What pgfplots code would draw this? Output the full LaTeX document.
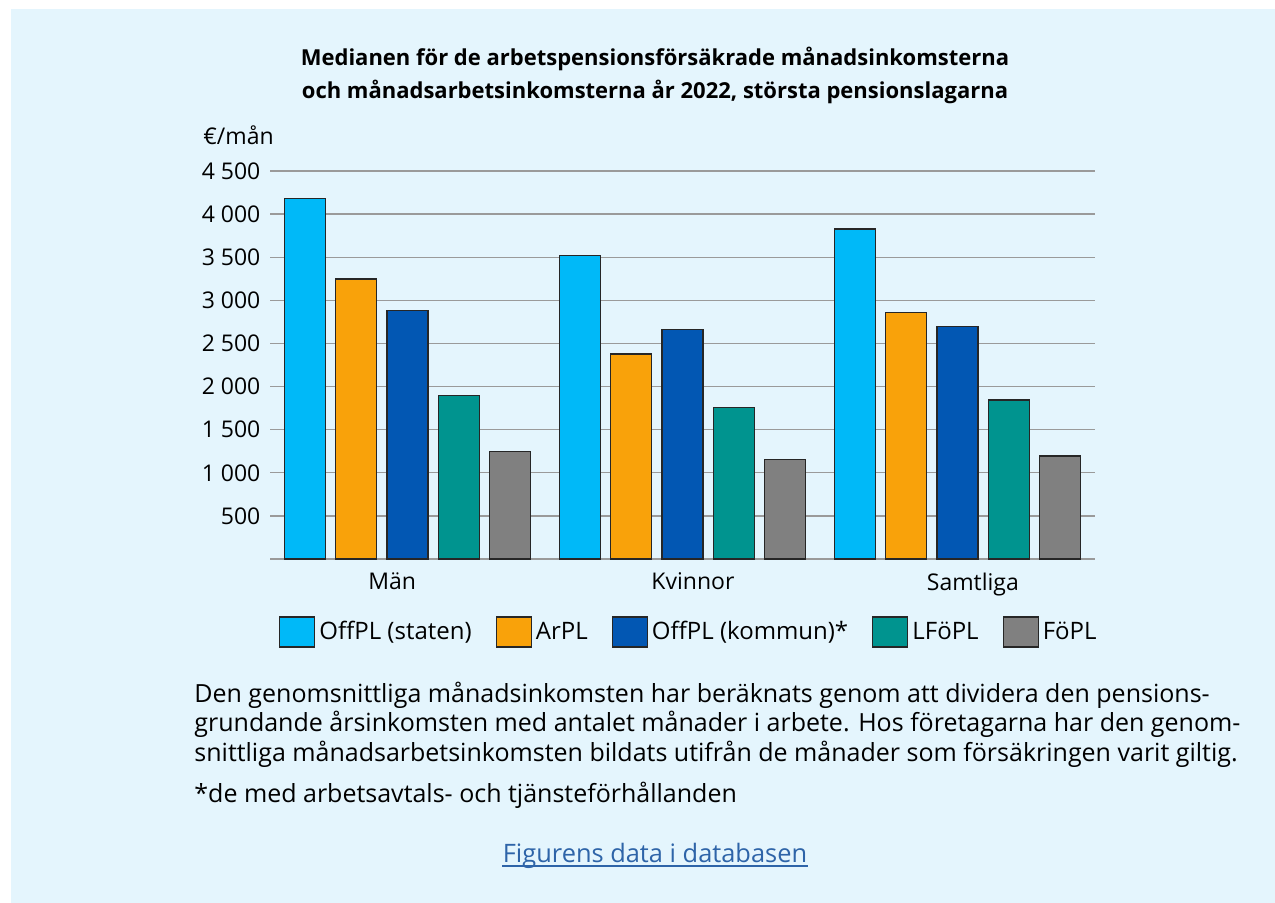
\documentclass[border=0pt]{standalone}
\usepackage{fontspec}
\setmainfont{Open Sans}
\usepackage{pgfplots}
\pgfplotsset{compat=1.18}

\definecolor{bgblue}{RGB}{228,245,253}
\definecolor{cstaten}{RGB}{0,185,248}
\definecolor{carpl}{RGB}{249,162,10}
\definecolor{ckommun}{RGB}{2,87,179}
\definecolor{clfopl}{RGB}{0,148,143}
\definecolor{cfopl}{RGB}{128,128,128}
\definecolor{gridgray}{RGB}{154,154,154}
\definecolor{linkblue}{RGB}{46,100,168}

\begin{document}
\begin{tikzpicture}
% page and panel, in pixels of the reference (1 px = 0.5 pt, y downwards)
\begin{scope}[x=0.5pt,y=-0.5pt]
  \fill[white] (0,0) rectangle (1275,903);
  \fill[bgblue] (11,9) rectangle (1275,903);
  \node[anchor=base,font=\fontsize{11}{13}\selectfont\bfseries] at (655,66)
    {Medianen för de arbetspensionsförsäkrade månadsinkomsterna};
  \node[anchor=base,font=\fontsize{11}{13}\selectfont\bfseries] at (655,99)
    {och månadsarbetsinkomsterna år 2022, största pensionslagarna};
  \node[anchor=base west,inner sep=0pt,font=\fontsize{11.5}{13}\selectfont] at (203,145) {€/mån};
  % note under the chart
  \begin{scope}[every node/.style={anchor=base west,inner sep=0pt,font=\fontsize{12.5}{15}\selectfont}]
    \node at (194,702) {Den genomsnittliga månadsinkomsten har beräknats genom att dividera den pensions-};
    \node at (194,731) {grundande årsinkomsten med antalet månader i arbete. Hos företagarna har den genom-};
    \node at (194,761) {snittliga månadsarbetsinkomsten bildats utifrån de månader som försäkringen varit giltig.};
    \node at (194,802) {*de med arbetsavtals- och tjänsteförhållanden};
  \end{scope}
  \node[anchor=base,inner sep=0pt,font=\fontsize{12.7}{15}\selectfont,text=linkblue] (link) at (655,862)
    {Figurens data i databasen};
  \draw[linkblue,line width=0.6pt] ([yshift=-2pt]link.base west) -- ([yshift=-2pt]link.base east);
\end{scope}

\begin{axis}[
    at={(135pt,-279.5pt)}, anchor=south west,
    scale only axis,
    width=412.5pt, height=194pt,
    xmin=-0.5, xmax=2.5,
    ymin=0, ymax=4500,
    ybar,
    bar width=0.149,
    axis line style={draw=none},
    major tick length=0pt,
    ymajorgrids,
    grid style={gridgray,line width=0.65pt},
    ytick={0,500,1000,1500,2000,2500,3000,3500,4000,4500},
    yticklabels={,500,1~000,1~500,2~000,2~500,3~000,3~500,4~000,4~500},
    % label positions (not quite centred on the groups)
    xtick={-0.056,1.038,2.056},
    xticklabels={Män,Kvinnor,Samtliga},
    ticklabel style={font=\fontsize{11.5}{13}\selectfont},
    yticklabel style={xshift=-1.3pt},
    xticklabel style={yshift=-3.5pt},
    legend columns=5,
    legend style={draw=none,fill=none,at={(0.509,-0.188)},anchor=center,
      font=\fontsize{12}{14}\selectfont,
      nodes={inner sep=2pt},
      /tikz/every even column/.append style={column sep=10pt}},
    legend image code/.code={\draw[#1,draw=black!85,line width=0.6pt] (0pt,-7.5pt) rectangle (17.5pt,7.5pt);},
    every axis plot/.append style={draw=black!85,line width=0.65pt},
]
\addplot[fill=cstaten,bar shift=-0.3732] coordinates {(0,4180) (1,3519) (2,3828)};
\addlegendentry{OffPL (staten)}
\addplot[fill=carpl,bar shift=-0.1866] coordinates {(0,3248) (1,2378) (2,2862)};
\addlegendentry{ArPL}
\addplot[fill=ckommun,bar shift=0] coordinates {(0,2880) (1,2660) (2,2695)};
\addlegendentry{OffPL (kommun)*}
\addplot[fill=clfopl,bar shift=0.1866] coordinates {(0,1899) (1,1755) (2,1844)};
\addlegendentry{LFöPL}
\addplot[fill=cfopl,bar shift=0.3732] coordinates {(0,1249) (1,1156) (2,1195)};
\addlegendentry{FöPL}
\end{axis}
\end{tikzpicture}
\end{document}
